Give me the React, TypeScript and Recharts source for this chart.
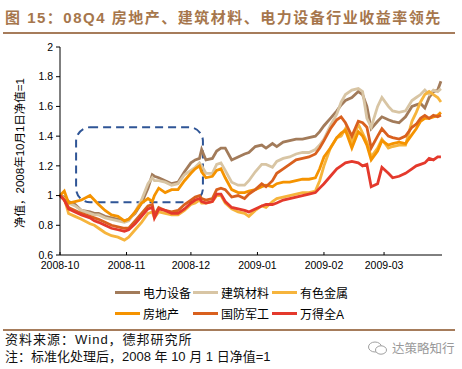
import React from "react";
import { LineChart, Line, XAxis, YAxis, ReferenceArea } from "recharts";

// days since 2008-10-01
const days = [
  0, 2, 4, 7, 10, 14, 16, 18, 21, 24, 27, 30, 32, 35, 38, 41, 43, 44, 46, 49,
  52, 55, 58, 61, 63, 65, 66, 68, 71, 73, 75, 77, 80, 83, 86, 88, 91, 94, 96, 99,
  101, 104, 107, 110, 113, 116, 119, 121, 123, 126, 129, 131, 133, 136, 139, 141, 143, 145, 148, 150,
  153, 155, 158, 161, 164, 166, 168, 170, 172, 174, 176, 177.5,
];

const tickDays = [0, 31, 61, 92, 123, 151];
const tickLabels = ["2008-10", "2008-11", "2008-12", "2009-01", "2009-02", "2009-03"];
const yTicks = [0.6, 0.8, 1, 1.2, 1.4, 1.6, 1.8, 2];

const dianli = [
  1.0, 0.99, 0.96, 0.94, 0.9, 0.89, 0.88, 0.88, 0.86, 0.85, 0.84, 0.83, 0.84, 0.88, 0.95, 1.05, 1.14, 1.13, 1.12, 1.1,
  1.08, 1.09, 1.16, 1.22, 1.24, 1.25, 1.31, 1.24, 1.25, 1.3, 1.32, 1.32, 1.24, 1.26, 1.28, 1.29, 1.33, 1.34, 1.32, 1.35,
  1.33, 1.36, 1.37, 1.38, 1.38, 1.39, 1.4, 1.43, 1.47, 1.52, 1.57, 1.61, 1.64, 1.66, 1.7, 1.68, 1.6, 1.45, 1.5, 1.53,
  1.51, 1.5, 1.49, 1.53, 1.6, 1.61, 1.62, 1.59, 1.66, 1.7, 1.71, 1.77,
];
const jiancai = [
  1.0, 0.98, 0.95, 0.93, 0.9, 0.88, 0.87, 0.87, 0.85, 0.84, 0.83, 0.82, 0.83, 0.89, 0.97, 1.08, 1.12, 1.1, 1.1, 1.09,
  1.07, 1.08, 1.14, 1.17, 1.19, 1.22, 1.2, 1.15, 1.15, 1.21, 1.22, 1.17, 1.09, 1.07, 1.07, 1.1, 1.16, 1.21, 1.21, 1.19,
  1.23, 1.25, 1.26, 1.28, 1.29, 1.29, 1.31, 1.34, 1.38, 1.47, 1.55, 1.63, 1.68, 1.71, 1.72, 1.7, 1.52, 1.46, 1.6, 1.66,
  1.6, 1.57, 1.56, 1.57, 1.64, 1.66, 1.68, 1.71, 1.68, 1.71, 1.7, 1.72,
];
const youse = [
  1.0, 0.98, 0.88, 0.86, 0.84, 0.81, 0.8, 0.78, 0.75, 0.73, 0.72, 0.7, 0.72, 0.77, 0.82, 0.88, 0.89, 0.85, 0.89, 0.88,
  0.87, 0.87, 0.9, 0.94, 0.95, 0.97, 0.95, 0.95, 0.96, 1.0, 1.0, 0.95, 0.91, 0.89, 0.88, 0.86, 0.9, 0.93, 0.92, 0.96,
  0.98, 0.99, 1.0, 1.01, 1.02, 1.02, 1.03, 1.1, 1.2, 1.32, 1.39, 1.4, 1.45, 1.36, 1.48, 1.42, 1.36, 1.26, 1.32, 1.38,
  1.32, 1.33, 1.34, 1.34, 1.5, 1.56, 1.63, 1.68, 1.7, 1.68, 1.66, 1.63,
];
const fangdichan = [
  1.0, 1.03, 0.95, 0.96, 0.97, 1.0, 0.97, 0.94, 0.9, 0.87, 0.86, 0.83, 0.84, 0.89, 0.95, 0.98, 0.96, 1.0, 1.05, 1.02,
  1.04, 1.04, 1.1, 1.15, 1.18, 1.2, 1.16, 1.12, 1.13, 1.17, 1.18, 1.12, 1.04, 1.02, 1.02, 1.03, 1.04, 1.06, 1.07, 1.06,
  1.08, 1.09, 1.09, 1.1, 1.11, 1.11, 1.12, 1.18, 1.26, 1.32, 1.39, 1.42, 1.44, 1.32, 1.43, 1.4, 1.34, 1.24, 1.3, 1.37,
  1.34, 1.35, 1.36, 1.35, 1.41, 1.45, 1.5, 1.52, 1.52, 1.53, 1.54, 1.56,
];
const junggong = [
  1.0, 0.97, 0.92, 0.9, 0.88, 0.86, 0.85, 0.84, 0.82, 0.8, 0.79, 0.78, 0.78, 0.83, 0.88, 0.93, 0.94, 0.87, 0.92, 0.9,
  0.89, 0.9, 0.94, 0.97, 0.99, 1.0, 0.98, 0.97, 0.98, 1.04, 1.05, 1.04, 0.99, 1.0, 0.98, 1.01, 1.04, 1.08, 1.06, 1.1,
  1.15, 1.18, 1.21, 1.24, 1.25, 1.26, 1.28, 1.32, 1.37, 1.45, 1.51, 1.53, 1.49, 1.4, 1.5, 1.49, 1.46, 1.32, 1.4, 1.45,
  1.4, 1.39, 1.38, 1.4, 1.46, 1.48, 1.52, 1.54, 1.52, 1.54, 1.53, 1.54,
];
const wande = [
  1.0, 0.97, 0.91, 0.89, 0.87, 0.85, 0.83, 0.82, 0.8, 0.78, 0.77, 0.76, 0.77, 0.81, 0.86, 0.91, 0.92, 0.85, 0.91, 0.9,
  0.88, 0.88, 0.91, 0.95, 0.97, 0.98, 0.96, 0.95, 0.96, 1.01, 1.01, 0.96, 0.92, 0.91, 0.9, 0.89, 0.91, 0.93, 0.94, 0.94,
  0.95, 0.97, 0.98, 0.99, 1.0, 1.01, 1.02, 1.05, 1.08, 1.13, 1.18, 1.2, 1.22, 1.23, 1.22, 1.2, 1.21, 1.06, 1.08, 1.19,
  1.15, 1.12, 1.13, 1.15, 1.18, 1.2, 1.21, 1.22, 1.25, 1.24, 1.26, 1.26,
];

const series = [
  { key: "dianli", name: "电力设备", color: "#A27B5A", values: dianli },
  { key: "jiancai", name: "建筑材料", color: "#D8C5A4", values: jiancai },
  { key: "youse", name: "有色金属", color: "#F6B43C", values: youse },
  { key: "fangdichan", name: "房地产", color: "#F59300", values: fangdichan },
  { key: "junggong", name: "国防军工", color: "#D9601E", values: junggong },
  { key: "wande", name: "万得全A", color: "#E4392C", values: wande },
];

const rows = days.map((d, i) => {
  const r: any = { d };
  series.forEach(s => { r[s.key] = s.values[i]; });
  return r;
});

const cjk = '"Liberation Sans", Arial, "Noto Sans CJK SC", sans-serif';

const RoundBox = (p: any) => (
  <rect x={p.x} y={p.y} width={p.width} height={p.height} rx={14} ry={14}
    fill="none" stroke="#2F5596" strokeWidth={2} strokeDasharray="8 5" />
);

export default function App() {
  return (
    <div style={{ position: "absolute", left: 0, top: 0, width: 462, height: 369, background: "#fff", fontFamily: cjk }}>
      {/* title */}
      <div style={{ position: "absolute", left: 5, top: 8, fontSize: 15, lineHeight: "20px", fontWeight: "bold", letterSpacing: 1.5, color: "#A6764C", whiteSpace: "nowrap" }}>
        图 15：08Q4 房地产、建筑材料、电力设备行业收益率领先
      </div>
      <div style={{ position: "absolute", left: 3, top: 32, width: 452, height: 2, background: "#A67C5B" }} />

      {/* y label */}
      <div style={{ position: "absolute", left: 19, top: 153, transform: "translate(-50%, -50%) rotate(-90deg)", fontSize: 11.5, whiteSpace: "nowrap", color: "#000" }}>
        净值，2008年10月1日净值=1
      </div>

      <div style={{ position: "absolute", left: 0, top: 0 }}>
        <LineChart width={462} height={276} data={rows} margin={{ top: 47, right: 20, bottom: 0, left: 0 }}>
          <XAxis
            dataKey="d"
            type="number"
            domain={[0, 178]}
            ticks={tickDays}
            interval={0}
            height={21}
            tickSize={-3}
            tickMargin={10}
            tickFormatter={(v: number) => tickLabels[tickDays.indexOf(v)]}
            tick={{ fontSize: 10.5, fill: "#000" }}
            axisLine={{ stroke: "#000" }}
            tickLine={{ stroke: "#000" }}
          />
          <YAxis
            domain={[0.6, 2]}
            ticks={yTicks}
            interval={0}
            width={60}
            tickSize={4}
            tickMargin={3}
            tickFormatter={(v: number) => String(Math.round(v * 10) / 10)}
            tick={{ fontSize: 10.5, fill: "#000" }}
            axisLine={{ stroke: "#000" }}
            tickLine={{ stroke: "#000" }}
          />
          {series.map(s => (
            <Line key={s.key} dataKey={s.key} name={s.name} stroke={s.color} strokeWidth={2.8}
              dot={false} type="linear" isAnimationActive={false} />
          ))}
          <ReferenceArea x1={7.5} x2={66.6} y1={0.955} y2={1.46} shape={RoundBox} />
        </LineChart>
      </div>

      {/* legend */}
      <div style={{ position: "absolute", left: 115, top: 282, display: "grid", gridTemplateColumns: "78px 79px 80px", gridAutoRows: "21px" }}>
        {series.map(s => (
          <div key={s.key} style={{ display: "flex", alignItems: "center", whiteSpace: "nowrap" }}>
            <span style={{ display: "inline-block", width: 25, height: 3, background: s.color, marginRight: 3 }} />
            <span style={{ fontSize: 12, color: "#000" }}>{s.name}</span>
          </div>
        ))}
      </div>

      <div style={{ position: "absolute", left: 3, top: 329, width: 452, height: 2, background: "#A67C5B" }} />
      <div style={{ position: "absolute", left: 5, top: 332, fontSize: 13, lineHeight: "16px", letterSpacing: 1, color: "#111", whiteSpace: "nowrap" }}>
        资料来源：Wind，德邦研究所
      </div>
      <div style={{ position: "absolute", left: 5, top: 349, fontSize: 13, lineHeight: "16px", color: "#111", whiteSpace: "nowrap" }}>
        注：标准化处理后，2008 年 10 月 1 日净值=1
      </div>

      {/* watermark */}
      <svg style={{ position: "absolute", left: 367, top: 341 }} width={22} height={15}>
        <ellipse cx={8} cy={6} rx={6.5} ry={5} fill="none" stroke="#a0a0a0" strokeWidth={1} />
        <ellipse cx={14} cy={9} rx={5.5} ry={4.2} fill="#fff" stroke="#a0a0a0" strokeWidth={1} />
      </svg>
      <div style={{ position: "absolute", left: 392, top: 341, fontSize: 12.5, lineHeight: "16px", color: "#999", whiteSpace: "nowrap" }}>
        达策略知行
      </div>
    </div>
  );
}
